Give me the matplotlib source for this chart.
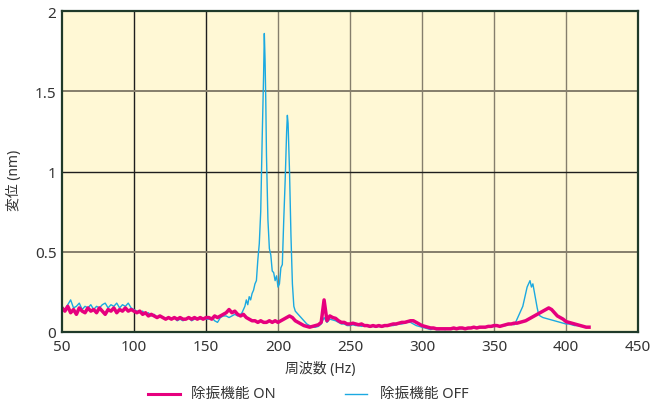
import numpy as np
import matplotlib
matplotlib.use("Agg")
import matplotlib.pyplot as plt
from matplotlib.lines import Line2D

plt.rcParams['font.family'] = ['Noto Sans', 'Noto Sans CJK JP', 'DejaVu Sans']

# ---- data ----
ON_HZ = list(range(50, 418, 2))
ON_VAL = [
    # 50-100
    0.15, 0.13, 0.16, 0.12, 0.14, 0.11, 0.15, 0.13, 0.12, 0.15, 0.13, 0.14, 0.12,
    0.15, 0.13, 0.11, 0.14, 0.13, 0.15, 0.12, 0.14, 0.13, 0.15, 0.13, 0.14, 0.13,
    # 102-150
    0.12, 0.13, 0.11, 0.12, 0.10, 0.11, 0.10, 0.09, 0.10, 0.09, 0.08, 0.09, 0.08,
    0.09, 0.08, 0.09, 0.08, 0.08, 0.09, 0.08, 0.09, 0.08, 0.09, 0.08, 0.09,
    # 152-200
    0.09, 0.08, 0.10, 0.09, 0.10, 0.11, 0.12, 0.14, 0.12, 0.13, 0.11, 0.10, 0.11,
    0.09, 0.08, 0.07, 0.07, 0.06, 0.07, 0.06, 0.06, 0.07, 0.06, 0.07, 0.06,
    # 202-250
    0.07, 0.08, 0.09, 0.10, 0.09, 0.07, 0.06, 0.05, 0.04, 0.035, 0.03, 0.035, 0.04,
    0.045, 0.06, 0.20, 0.07, 0.10, 0.09, 0.085, 0.07, 0.06, 0.06, 0.05, 0.05,
    # 252-300
    0.055, 0.05, 0.045, 0.05, 0.04, 0.04, 0.035, 0.04, 0.035, 0.04, 0.035, 0.04, 0.04,
    0.045, 0.05, 0.05, 0.055, 0.06, 0.06, 0.065, 0.07, 0.07, 0.06, 0.05, 0.04,
    # 302-350
    0.035, 0.03, 0.025, 0.025, 0.02, 0.02, 0.02, 0.02, 0.02, 0.02, 0.025, 0.02, 0.025,
    0.025, 0.02, 0.025, 0.025, 0.03, 0.025, 0.03, 0.03, 0.03, 0.035, 0.035, 0.04,
    # 352-400
    0.04, 0.035, 0.04, 0.045, 0.05, 0.05, 0.055, 0.055, 0.06, 0.065, 0.07, 0.08, 0.09,
    0.10, 0.11, 0.12, 0.13, 0.14, 0.15, 0.14, 0.12, 0.10, 0.09, 0.08, 0.065,
    # 402-416
    0.06, 0.055, 0.05, 0.045, 0.04, 0.035, 0.03, 0.03,
]

OFF_HZ = (
    list(range(50, 176, 2))
    + [175, 176, 177, 178, 179, 180, 181, 182, 183, 184, 185, 186, 187, 188, 189, 190,
       190.5, 191, 191.5, 192, 193, 194, 195, 196, 197, 198, 199, 200, 201, 202, 203,
       204, 205, 206, 206.5, 207, 208, 209, 210, 211, 212]
    + list(range(214, 365, 2))
    + [365, 366, 367, 368, 369, 370, 371, 372, 373, 374, 375, 376, 377, 378, 379, 380,
       381, 382]
    + list(range(384, 418, 2))
)
OFF_VAL = [
    # 50-100
    0.16, 0.14, 0.17, 0.20, 0.15, 0.16, 0.18, 0.14, 0.16, 0.15, 0.17, 0.14, 0.16,
    0.15, 0.17, 0.18, 0.15, 0.17, 0.16, 0.18, 0.15, 0.17, 0.16, 0.18, 0.15, 0.14,
    # 102-150
    0.13, 0.12, 0.13, 0.11, 0.12, 0.10, 0.11, 0.09, 0.10, 0.09, 0.08, 0.09, 0.08,
    0.09, 0.07, 0.08, 0.07, 0.08, 0.09, 0.07, 0.08, 0.09, 0.08, 0.09, 0.08,
    # 152-174
    0.08, 0.09, 0.07, 0.06, 0.09, 0.10, 0.10, 0.09, 0.10, 0.11, 0.10, 0.11,
    # 175-212 resonance peaks
    0.12, 0.14, 0.16, 0.20, 0.17, 0.22, 0.20, 0.24, 0.26, 0.30, 0.32, 0.45, 0.55,
    0.75, 1.20, 1.60, 1.86, 1.70, 1.45, 1.10, 0.70, 0.52, 0.48, 0.38, 0.37, 0.32,
    0.35, 0.28, 0.30, 0.40, 0.42, 0.70, 0.95, 1.25, 1.35, 1.30, 1.00, 0.60, 0.30,
    0.16, 0.13,
    # 214-250
    0.11, 0.09, 0.07, 0.05, 0.04, 0.03, 0.03, 0.035, 0.05, 0.09, 0.06, 0.08, 0.075,
    0.07, 0.06, 0.05, 0.05, 0.04, 0.04,
    # 252-300
    0.045, 0.04, 0.04, 0.035, 0.04, 0.035, 0.03, 0.035, 0.03, 0.035, 0.03, 0.035, 0.04,
    0.04, 0.04, 0.045, 0.05, 0.05, 0.055, 0.06, 0.06, 0.05, 0.04, 0.035, 0.03,
    # 302-350
    0.025, 0.02, 0.015, 0.02, 0.015, 0.015, 0.02, 0.015, 0.02, 0.02, 0.02, 0.025, 0.02,
    0.02, 0.025, 0.02, 0.025, 0.025, 0.03, 0.025, 0.03, 0.03, 0.035, 0.03, 0.035,
    # 352-364
    0.04, 0.035, 0.04, 0.04, 0.045, 0.05, 0.045,
    # 365-382
    0.06, 0.08, 0.10, 0.12, 0.14, 0.16, 0.20, 0.24, 0.28, 0.30, 0.32, 0.28, 0.30,
    0.25, 0.20, 0.15, 0.11, 0.10,
    # 384-416
    0.09, 0.085, 0.08, 0.075, 0.07, 0.065, 0.06, 0.055, 0.05, 0.05, 0.045, 0.04,
    0.04, 0.035, 0.035, 0.03, 0.03,
]

X_TICKS = [50, 100, 150, 200, 250, 300, 350, 400, 450]
Y_TICKS = [0, 0.5, 1, 1.5, 2]
Y_TICKLABELS = ["0", "0.5", "1", "1.5", "2"]
XLABEL = "周波数 (Hz)"
YLABEL = "変位 (nm)"
LABEL_ON = "除振機能 ON"
LABEL_OFF = "除振機能 OFF"

C_ON = "#E6007E"
C_OFF = "#1BA9E1"
TXT = "#333333"

W, H = 653, 406
fig = plt.figure(figsize=(W / 100, H / 100), dpi=100)
ax = fig.add_axes([62 / W, 1 - 333 / H, (638 - 62) / W, (333 - 12) / H])
ax.set_facecolor("#FFF8D5")

ax.set_xlim(50, 450)
ax.set_ylim(0, 2)
ax.set_xticks(X_TICKS)
ax.set_yticks(Y_TICKS)
ax.set_yticklabels(Y_TICKLABELS)
ax.tick_params(length=0, labelsize=11, colors=TXT)
ax.tick_params(axis="x", pad=5)
ax.tick_params(axis="y", pad=4)

# grid lines (mixed dark/grey as in reference)
for xv in X_TICKS[1:-1]:
    col = "#1e1e1e" if xv < 200 else "#857e6c"
    ax.axvline(xv, color=col, lw=1.0, zorder=1)
for yv in Y_TICKS[1:-1]:
    col = "#1e1e1e" if yv == 1 else "#857e6c"
    ax.axhline(yv, color=col, lw=1.0 if yv == 1 else 1.4, zorder=1)

for s in ax.spines.values():
    s.set_color("#1f3a2a")
    s.set_linewidth(1.6)
    s.set_zorder(5)

ax.plot(OFF_HZ, OFF_VAL, color=C_OFF, lw=1.0, zorder=3)
ax.plot(ON_HZ, ON_VAL, color=C_ON, lw=2.5, zorder=3.5)

ax.set_xlabel(XLABEL, fontsize=10, color=TXT)
ax.set_ylabel(YLABEL, fontsize=10, color=TXT)
ax.xaxis.set_label_coords((320 - 62) / 576, (333 - 370) / 321)
ax.yaxis.set_label_coords((14 - 62) / 576, (333 - 180) / 321)
ax.xaxis.label.set_verticalalignment("center")
ax.yaxis.label.set_verticalalignment("center")

# legend (manual)
ly = 1 - 395 / H
fig.add_artist(Line2D([148 / W, 180 / W], [ly, ly], color=C_ON, lw=2.2))
fig.text(191 / W, ly, LABEL_ON, fontsize=10.5, color=TXT, va="center", ha="left")
fig.add_artist(Line2D([345 / W, 367 / W], [ly, ly], color=C_OFF, lw=1.0))
fig.text(380 / W, ly, LABEL_OFF, fontsize=10.5, color=TXT, va="center", ha="left")

fig.savefig("out.png", dpi=100)
